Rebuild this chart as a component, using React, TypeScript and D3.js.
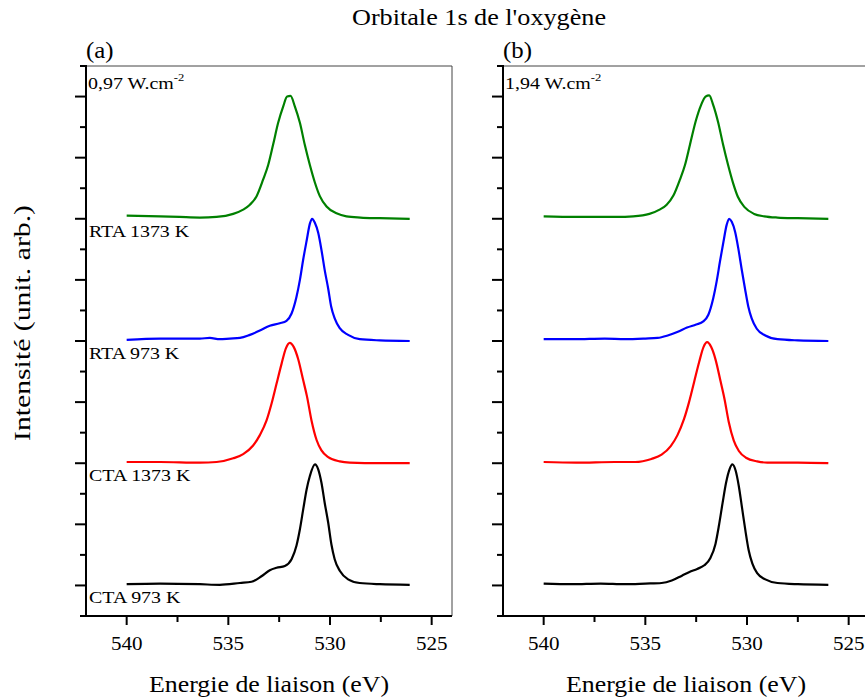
import React from "react";
import * as d3 from "d3";

// ---------- data (binding energy eV, normalised intensity) ----------
type P = [number, number];

const titleText = "Orbitale 1s de l'oxygène";
const xTitle = "Energie de liaison (eV)";
const yTitle = "Intensité (unit. arb.)";
const panelLetters = ["(a)", "(b)"];
const powerLabels = ["0,97", "1,94"];
const sampleLabels = ["CTA 973 K", "CTA 1373 K", "RTA 973 K", "RTA 1373 K"];
const seriesOffsets = [0, 2, 4, 6];
const seriesColors = ["#000000", "#ff0000", "#0000ff", "#008000"];
const xMajorTicks = [540, 535, 530, 525];
const xMinorTicks = [537.5, 532.5, 527.5];
const yMajorTicks = [0, 1, 2, 3, 4, 5, 6, 7, 8];
const yMinorTicks = [0.5, 1.5, 2.5, 3.5, 4.5, 5.5, 6.5, 7.5, 8.5];

// panel (a)
const cta973A: P[] = [
  [540, 0.02], [538.36, 0.03], [536.4, 0.02], [535.42, 0.01], [534.43, 0.04],
  [533.86, 0.06], [533.37, 0.15], [532.96, 0.25], [532.63, 0.29], [532.22, 0.32],
  [531.89, 0.43], [531.65, 0.65], [531.48, 0.92], [531.32, 1.24], [531.15, 1.57],
  [530.99, 1.79], [530.74, 1.98], [530.58, 1.9], [530.42, 1.68], [530.26, 1.35],
  [530.09, 1.03], [529.93, 0.67], [529.77, 0.43], [529.52, 0.24], [529.11, 0.1],
  [528.54, 0.04], [527.55, 0.02], [526.08, 0.01],
];
const cta1373A: P[] = [
  [540, 0.02], [538.36, 0.02], [536.4, 0.01], [535.58, 0.02], [534.76, 0.08],
  [534.27, 0.15], [533.78, 0.29], [533.45, 0.46], [533.12, 0.7], [532.87, 0.98],
  [532.63, 1.3], [532.38, 1.63], [532.17, 1.88], [531.98, 1.97], [531.78, 1.9],
  [531.57, 1.71], [531.32, 1.36], [531.13, 1.09], [530.91, 0.7], [530.66, 0.38],
  [530.42, 0.21], [530.09, 0.1], [529.52, 0.03], [529.03, 0.01], [527.55, 0.0],
  [526.08, 0.0],
];
const rta973A: P[] = [
  [540, 0.02], [538.36, 0.04], [536.4, 0.04], [535.91, 0.05], [535.42, 0.03],
  [534.93, 0.04], [534.43, 0.05], [533.94, 0.1], [533.45, 0.17], [532.96, 0.25],
  [532.47, 0.29], [532.14, 0.33], [531.89, 0.45], [531.65, 0.72], [531.48, 1.0],
  [531.32, 1.33], [531.15, 1.64], [530.99, 1.92], [530.88, 2.0], [530.75, 1.94],
  [530.58, 1.77], [530.42, 1.49], [530.26, 1.16], [530.09, 0.86], [529.94, 0.56],
  [529.77, 0.37], [529.52, 0.21], [529.11, 0.1], [528.54, 0.03], [527.55, 0.01],
  [526.08, 0.0],
];
const rta1373A: P[] = [
  [540, 0.05], [538.36, 0.04], [537.4, 0.03], [536.4, 0.02], [535.58, 0.03],
  [534.76, 0.08], [534.27, 0.15], [533.94, 0.23], [533.61, 0.37], [533.29, 0.64],
  [533.04, 0.88], [532.8, 1.21], [532.55, 1.57], [532.3, 1.84], [532.11, 2.0],
  [531.94, 2.01], [531.73, 1.84], [531.48, 1.57], [531.24, 1.21], [530.99, 0.88],
  [530.74, 0.59], [530.5, 0.37], [530.17, 0.2], [529.68, 0.09], [529.19, 0.04],
  [528.5, 0.02], [527.55, 0.01], [526.08, 0.0],
];

// panel (b)
const cta973B: P[] = [
  [540, 0.03], [538.6, 0.02], [537.2, 0.03], [536.0, 0.02], [535.0, 0.03],
  [534.2, 0.04], [533.7, 0.08], [533.2, 0.16], [532.83, 0.22], [532.45, 0.27],
  [532.1, 0.33], [531.8, 0.45], [531.55, 0.68], [531.38, 0.98], [531.2, 1.35],
  [531.03, 1.68], [530.86, 1.9], [530.72, 1.98], [530.56, 1.88], [530.4, 1.62],
  [530.24, 1.26], [530.08, 0.9], [529.92, 0.58], [529.74, 0.36], [529.5, 0.2],
  [529.1, 0.1], [528.5, 0.04], [527.5, 0.02], [526.0, 0.01],
];
const cta1373B: P[] = [
  [540, 0.02], [538.4, 0.01], [536.5, 0.02], [535.5, 0.02], [534.7, 0.07],
  [534.2, 0.14], [533.75, 0.28], [533.42, 0.46], [533.1, 0.72], [532.85, 1.0],
  [532.6, 1.33], [532.35, 1.66], [532.14, 1.9], [531.96, 1.98], [531.76, 1.9],
  [531.55, 1.7], [531.3, 1.34], [531.1, 1.04], [530.9, 0.68], [530.65, 0.37],
  [530.4, 0.2], [530.05, 0.09], [529.5, 0.03], [529.0, 0.01], [527.5, 0.01],
  [526.0, 0.0],
];
const rta973B: P[] = [
  [540, 0.03], [538.5, 0.03], [537.0, 0.04], [536.0, 0.03], [535.0, 0.04],
  [534.4, 0.05], [533.9, 0.09], [533.4, 0.15], [532.95, 0.22], [532.5, 0.27],
  [532.15, 0.32], [531.9, 0.43], [531.66, 0.7], [531.49, 0.98], [531.33, 1.3],
  [531.16, 1.62], [531.0, 1.9], [530.88, 2.0], [530.75, 1.95], [530.58, 1.78],
  [530.42, 1.5], [530.26, 1.17], [530.1, 0.86], [529.94, 0.57], [529.77, 0.37],
  [529.52, 0.2], [529.1, 0.09], [528.5, 0.03], [527.5, 0.01], [526.0, 0.0],
];
const rta1373B: P[] = [
  [540, 0.04], [538.4, 0.03], [537.4, 0.03], [536.4, 0.03], [535.6, 0.04],
  [534.8, 0.08], [534.3, 0.15], [533.95, 0.23], [533.62, 0.38], [533.3, 0.64],
  [533.05, 0.88], [532.8, 1.22], [532.52, 1.6], [532.26, 1.86], [532.04, 2.0],
  [531.86, 2.02], [531.66, 1.86], [531.42, 1.58], [531.18, 1.22], [530.93, 0.88],
  [530.68, 0.58], [530.45, 0.36], [530.12, 0.19], [529.65, 0.08], [529.15, 0.04],
  [528.5, 0.02], [527.5, 0.01], [526.0, 0.0],
];

const panelSeries: P[][][] = [
  [cta973A, cta1373A, rta973A, rta1373A],
  [cta973B, cta1373B, rta973B, rta1373B],
];

// ---------- layout ----------
const W = 865;
const H = 700;
const FONT = "'Liberation Serif', 'Times New Roman', serif";
const panelLeft = [86, 503];
const panelWidth = 366;
const plotTop = 66;
const plotBottom = 616;
const xDomain: [number, number] = [542, 524];
const yDomain: [number, number] = [-0.5, 8.5];

function Txt(props: {
  x: number; y: number; size: number; anchor?: string; sx?: number; rot?: number;
  children: React.ReactNode;
}) {
  const { x, y, size, anchor = "start", sx = 1.14, rot = 0, children } = props;
  return (
    <text
      transform={`translate(${x},${y}) rotate(${rot}) scale(${sx},1)`}
      fontSize={size}
      fontFamily={FONT}
      textAnchor={anchor as any}
      fill="#000"
    >
      {children}
    </text>
  );
}

function Panel({ idx }: { idx: number }) {
  const left = panelLeft[idx];
  const x = d3.scaleLinear().domain(xDomain).range([left, left + panelWidth]);
  const y = d3.scaleLinear().domain(yDomain).range([plotBottom, plotTop]);
  const series = panelSeries[idx];
  return (
    <g>
      {/* frame (top and right, thin) */}
      <line x1={left} x2={left + panelWidth} y1={plotTop} y2={plotTop} stroke="#444" strokeWidth={1} />
      <line x1={left + panelWidth} x2={left + panelWidth} y1={plotTop} y2={plotBottom} stroke="#444" strokeWidth={1} />
      {/* curves */}
      {series.map((pts, i) => {
        const line = d3
          .line<P>()
          .x((d) => x(d[0]))
          .y((d) => y(d[1] + seriesOffsets[i]))
          .curve(d3.curveMonotoneX);
        return (
          <path key={i} d={line(pts) || ""} fill="none" stroke={seriesColors[i]} strokeWidth={2.2} strokeLinejoin="round" />
        );
      })}
      {/* y axis */}
      <line x1={left} x2={left} y1={plotTop - 1} y2={plotBottom + 1} stroke="#000" strokeWidth={2} />
      {yMajorTicks.map((t) => (
        <line key={"ym" + t} x1={left - 11} x2={left} y1={y(t)} y2={y(t)} stroke="#000" strokeWidth={2} />
      ))}
      {yMinorTicks.map((t) => (
        <line key={"yn" + t} x1={left - 6} x2={left} y1={y(t)} y2={y(t)} stroke="#000" strokeWidth={2} />
      ))}
      {/* x axis */}
      <line x1={left - 6} x2={left + panelWidth} y1={plotBottom} y2={plotBottom} stroke="#000" strokeWidth={2} />
      {xMajorTicks.map((t) => (
        <g key={"xm" + t}>
          <line x1={x(t)} x2={x(t)} y1={plotBottom} y2={plotBottom + 9} stroke="#000" strokeWidth={2} />
          <Txt x={x(t)} y={650} size={19.5} anchor="middle" sx={1.08}>{t}</Txt>
        </g>
      ))}
      {xMinorTicks.map((t) => (
        <line key={"xn" + t} x1={x(t)} x2={x(t)} y1={plotBottom} y2={plotBottom + 6} stroke="#000" strokeWidth={2} />
      ))}
      <text
        x={left + panelWidth / 2}
        y={692}
        fontSize={23}
        fontFamily={FONT}
        textAnchor="middle"
        textLength={240}
        lengthAdjust="spacingAndGlyphs"
      >
        {xTitle}
      </text>
      {/* panel letter */}
      <Txt x={left} y={58} size={23} sx={1.08}>{panelLetters[idx]}</Txt>
      {/* power density */}
      <text
        transform={`translate(${left + 2},89) scale(1.14,1)`}
        fontSize={17.5}
        fontFamily={FONT}
      >
        {powerLabels[idx] + " W.cm"}
        <tspan fontSize={11} dy={-8}>-2</tspan>
      </text>
      {/* sample labels, panel (a) only */}
      {idx === 0 &&
        sampleLabels.map((s, i) => (
          <Txt key={s} x={left + 3} y={y(seriesOffsets[i]) + 18} size={17.5} sx={1.14}>{s}</Txt>
        ))}
    </g>
  );
}

export default function App() {
  return (
    <svg
      width={W}
      height={H}
      viewBox={`0 0 ${W} ${H}`}
      style={{ position: "absolute", left: 0, top: 0, background: "#fff" }}
    >
      <rect x={0} y={0} width={W} height={H} fill="#fff" />
      <text
        x={479}
        y={25}
        fontSize={23}
        fontFamily={FONT}
        textAnchor="middle"
        textLength={254}
        lengthAdjust="spacingAndGlyphs"
      >
        {titleText}
      </text>
      <text
        transform="translate(30,323) rotate(-90)"
        fontSize={24}
        fontFamily={FONT}
        textAnchor="middle"
        textLength={236}
        lengthAdjust="spacingAndGlyphs"
      >
        {yTitle}
      </text>
      <Panel idx={0} />
      <Panel idx={1} />
    </svg>
  );
}
